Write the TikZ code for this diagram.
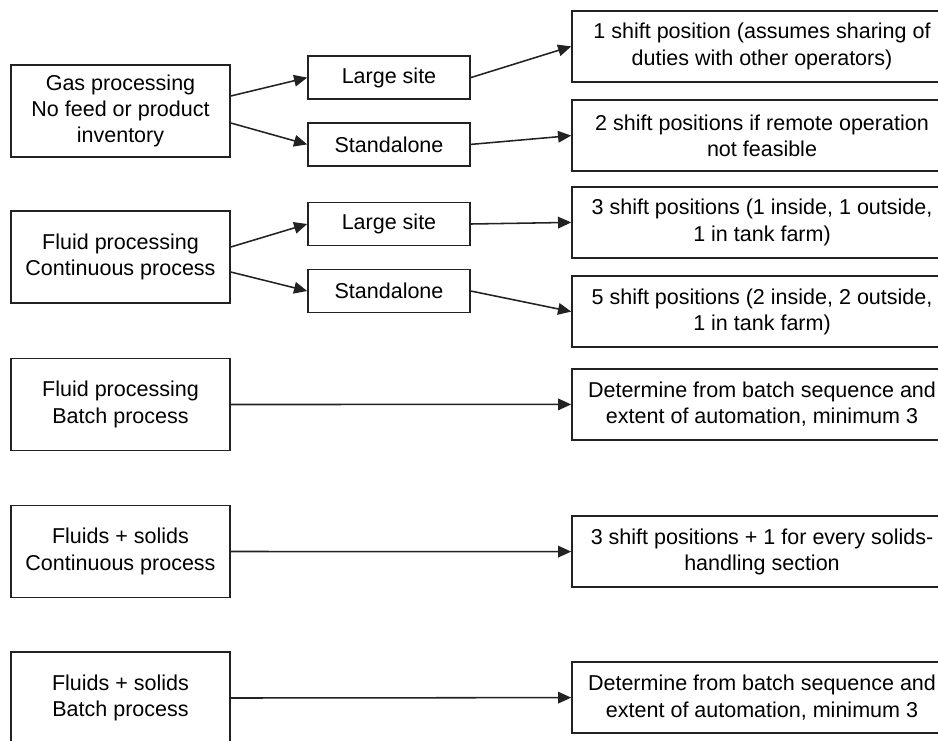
\documentclass[tikz,border=0pt]{standalone}
\usepackage{fontspec}
\setmainfont{Liberation Sans}
\usepackage{tikz}
\usetikzlibrary{arrows.meta, positioning}
\definecolor{inkline}{HTML}{222222}

\begin{document}
\begin{tikzpicture}[
    font=\fontsize{15.3}{18.6}\selectfont,
    plantbox/.style={draw=inkline, line width=1.1pt, align=center, inner sep=0pt,
        minimum width=5.475cm, minimum height=2.3cm},
    sitebox/.style={draw=inkline, line width=1.1pt, align=center, inner sep=0pt,
        minimum width=4.05cm, minimum height=1.075cm},
    staffbox/.style={draw=inkline, line width=1.1pt, align=center, inner sep=0pt,
        minimum width=9.5cm, minimum height=1.775cm},
    flow/.style={-{Triangle[length=3.3mm, width=2.9mm]}, line width=1.1pt, color=inkline}
]

% page frame
\useasboundingbox (0,0) rectangle (23.45,-18.5);

% =====================================================
% PLANT TYPES (LEFT COLUMN)
% =====================================================
\node[plantbox] (gasproc)    at (3.0125, -2.775)  {Gas processing\\No feed or product\\inventory};
\node[plantbox] (fluidcont)  at (3.0125, -6.425)  {Fluid processing\\Continuous process};
\node[plantbox] (fluidbatch) at (3.0125, -10.1125) {Fluid processing\\Batch process};
\node[plantbox] (solcont)    at (3.0125, -13.7875) {Fluids + solids\\Continuous process};
\node[plantbox] (solbatch)   at (3.0125, -17.45)  {Fluids + solids\\Batch process};

% =====================================================
% SITE TYPES (MIDDLE COLUMN)
% =====================================================
\node[sitebox] (large1) at (9.725, -1.94)  {Large site};
\node[sitebox] (stand1) at (9.725, -3.61)  {Standalone};
\node[sitebox] (large2) at (9.725, -5.6)   {Large site};
\node[sitebox] (stand2) at (9.725, -7.275) {Standalone};

% =====================================================
% SHIFT STAFFING (RIGHT COLUMN)
% =====================================================
\node[staffbox] (res1) at (19.05, -1.16)  {1 shift position (assumes sharing of\\duties with other operators)};
\node[staffbox] (res2) at (19.05, -3.39)  {2 shift positions if remote operation\\not feasible};
\node[staffbox] (res3) at (19.05, -5.56)  {3 shift positions (1 inside, 1 outside,\\1 in tank farm)};
\node[staffbox] (res4) at (19.05, -7.79)  {5 shift positions (2 inside, 2 outside,\\1 in tank farm)};
\node[staffbox] (res5) at (19.05, -10.11) {Determine from batch sequence and\\extent of automation, minimum 3};
\node[staffbox] (res6) at (19.05, -13.79) {3 shift positions + 1 for every solids-\\handling section};
\node[staffbox] (res7) at (19.05, -17.44) {Determine from batch sequence and\\extent of automation, minimum 3};

% plant -> site
\draw[flow] ([yshift=0.375cm]gasproc.east) -- (large1.west);
\draw[flow] ([yshift=-0.3cm]gasproc.east) -- (stand1.west);
\draw[flow] ([yshift=0.25cm]fluidcont.east) -- (large2.west);
\draw[flow] ([yshift=-0.375cm]fluidcont.east) -- (stand2.west);

% site -> staffing
\draw[flow] (large1.east) -- (res1.west);
\draw[flow] (stand1.east) -- (res2.west);
\draw[flow] (large2.east) -- (res3.west);
\draw[flow] (stand2.east) -- (res4.west);

% batch and solids plants go straight across
\draw[flow] (fluidbatch.east) -- (res5.west);
\draw[flow] (solcont.east) -- (res6.west);
\draw[flow] (solbatch.east) -- (res7.west);

\end{tikzpicture}
\end{document}
